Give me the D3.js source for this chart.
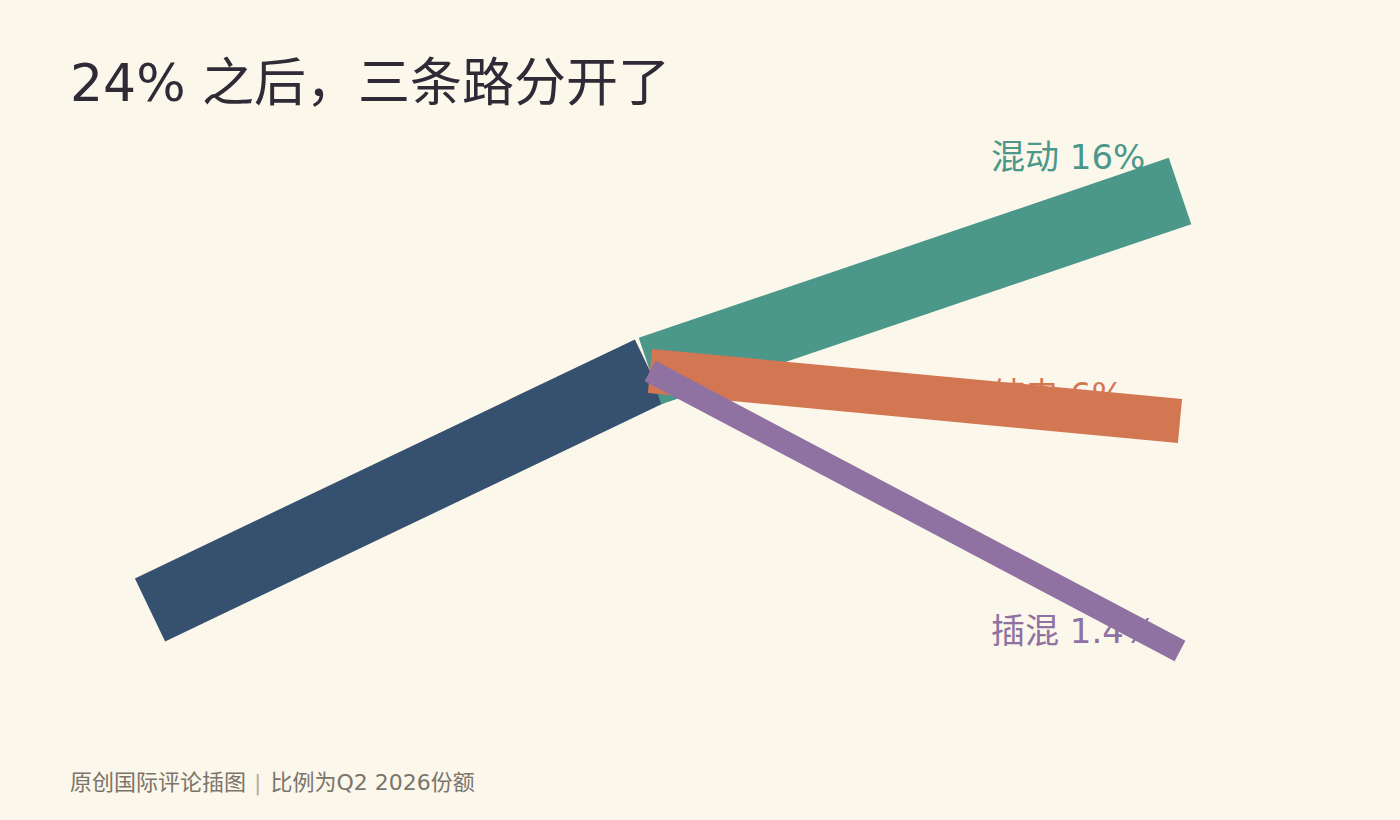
<!DOCTYPE html>
<html>
<head>
<meta charset="utf-8">
<script src="https://cdn.jsdelivr.net/npm/d3@7/dist/d3.min.js"></script>
<style>
  html, body { margin: 0; padding: 0; background: #fbf7eb; }
  svg { display: block; }
  text { font-family: "DejaVu Sans", "Noto Sans CJK SC", sans-serif; }
</style>
</head>
<body>
<svg id="chart" width="1400" height="820"></svg>
<script>
// ---- data ----
const titleText = "24% 之后，三条路分开了";
const footerLeft = "原创国际评论插图";
const footerRight = "比例为Q2 2026份额";
const trunkValue = 24;
const branchNames = ["混动", "纯电", "插混"];
const branchValues = [16, 6, 1.4];
const branchLabels = ["混动 16%", "纯电 6%", "插混 1.4%"];
const branchColors = ["#4b978a", "#d37753", "#8f71a2"];
const trunkColor = "#36506f";

// ---- layout ----
const W = 1400, H = 820;
const svg = d3.select("#chart");
svg.append("rect").attr("width", W).attr("height", H).attr("fill", "#fbf7eb");

// stage 0 = start, 1 = split, 2 = end
const x = d3.scaleLinear().domain([0, 1, 2]).range([150, 650, 1180]);
const yEnd = d3.scalePoint().domain(branchNames).range([191, 651]);
const ySplit = 371, yStart = 610;
const w = d3.scalePow().exponent(0.5).domain([0, 16]).range([3.3, 70]).clamp(true);

const branches = branchNames.map((n, i) => ({
  name: n, value: branchValues[i], label: branchLabels[i], color: branchColors[i]
}));

// labels (behind the lines)
svg.append("g").selectAll("text").data(branches).join("text")
  .attr("x", 991)
  .attr("y", d => yEnd(d.name) - 0.3 * w(d.value) - 1)
  .attr("fill", d => d.color)
  .attr("font-size", 34)
  .text(d => d.label);

// trunk
svg.append("line")
  .attr("x1", x(0)).attr("y1", yStart)
  .attr("x2", x(1)).attr("y2", ySplit)
  .attr("stroke", trunkColor)
  .attr("stroke-width", w(trunkValue))
  .attr("stroke-linecap", "butt");

// branches
svg.append("g").selectAll("line").data(branches).join("line")
  .attr("x1", x(1)).attr("y1", ySplit)
  .attr("x2", x(2)).attr("y2", d => yEnd(d.name))
  .attr("stroke", d => d.color)
  .attr("stroke-width", d => w(d.value))
  .attr("stroke-linecap", "butt");

// title
svg.append("text")
  .attr("x", 70).attr("y", 101)
  .attr("fill", "#2e2a36")
  .attr("font-size", 52)
  .text(titleText);

// footer
const ft = svg.append("text")
  .attr("x", 70).attr("y", 790)
  .attr("font-size", 22)
  .attr("fill", "#7a746a");
ft.append("tspan").text(footerLeft);
ft.append("tspan").attr("fill", "#b5ad9f").attr("dx", 8).text("|");
ft.append("tspan").attr("dx", 9).text(footerRight);
</script>
</body>
</html>
